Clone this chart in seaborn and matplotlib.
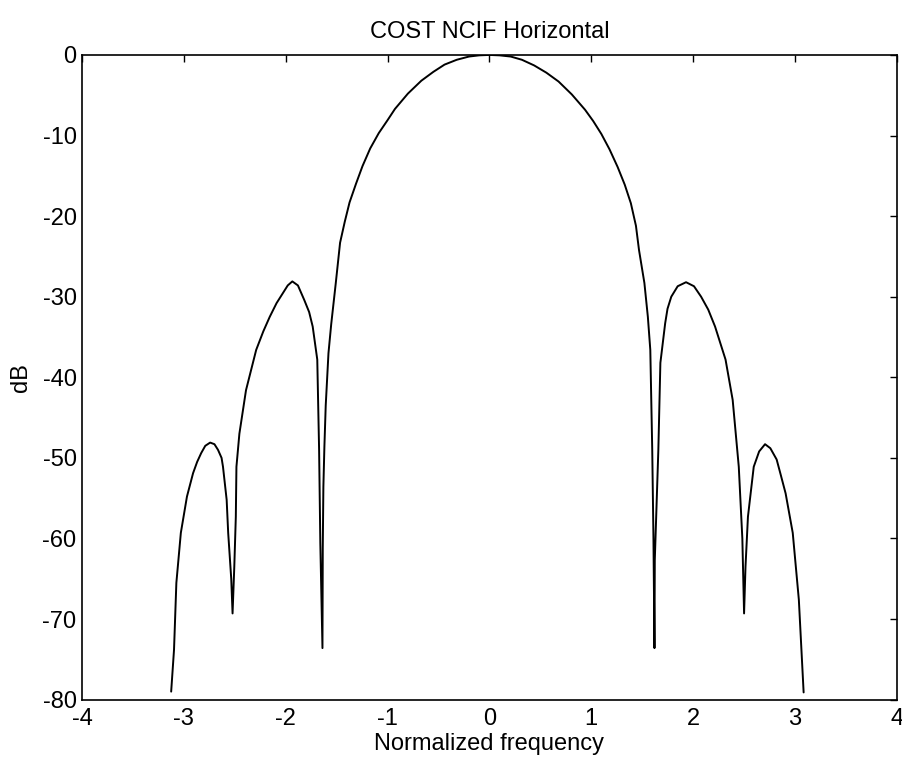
import numpy as np
import pandas as pd
import matplotlib
matplotlib.use('Agg')
import matplotlib.pyplot as plt
import seaborn as sns

# Valores (frecuencia normalizada, dB)
frecuencia = [
    # lobulo lateral exterior izquierdo
    -3.125, -3.097, -3.074, -3.03, -2.97, -2.91, -2.87, -2.83, -2.79, -2.742,
    -2.70, -2.665, -2.63, -2.616, -2.58, -2.565, -2.535, -2.522,
    # primer lobulo lateral izquierdo
    -2.505, -2.49, -2.484, -2.455, -2.39, -2.29, -2.22, -2.157, -2.09, -2.02,
    -1.98, -1.935, -1.88, -1.818, -1.77, -1.735, -1.69, -1.672, -1.66, -1.639,
    # lobulo principal
    -1.636, -1.63, -1.62, -1.607, -1.58, -1.553, -1.509, -1.466, -1.42, -1.373,
    -1.31, -1.246, -1.17, -1.086, -1.0, -0.927, -0.8, -0.668, -0.55, -0.44,
    -0.32, -0.2, -0.1, 0.0, 0.1, 0.21, 0.32, 0.44, 0.56, 0.68,
    0.81, 0.94, 1.02, 1.10, 1.18, 1.26, 1.33, 1.39, 1.44, 1.47,
    1.523, 1.557, 1.581, 1.60, 1.612, 1.622,
    # primer lobulo lateral derecho
    1.625, 1.66, 1.68, 1.727, 1.75, 1.787, 1.85, 1.932, 2.01, 2.08,
    2.15, 2.217, 2.32, 2.39, 2.45, 2.485, 2.502,
    # lobulo lateral exterior derecho
    2.516, 2.54, 2.597, 2.65, 2.708, 2.76, 2.822, 2.86, 2.91, 2.98,
    3.04, 3.087,
]
db = [
    -79.0, -73.8, -65.5, -59.3, -54.8, -51.9, -50.5, -49.4, -48.5, -48.1,
    -48.3, -49.0, -50.0, -51.1, -55.2, -59.3, -65.0, -69.3,
    -63.5, -57.3, -51.1, -47.0, -41.6, -36.6, -34.3, -32.5, -30.8, -29.4,
    -28.6, -28.1, -28.6, -30.4, -31.9, -33.7, -37.8, -49.0, -60.6, -73.6,
    -61.2, -53.6, -48.6, -43.5, -37.0, -33.4, -28.4, -23.3, -20.7, -18.3,
    -16.0, -13.8, -11.6, -9.7, -8.1, -6.7, -4.8, -3.2, -2.1, -1.2,
    -0.6, -0.2, -0.05, 0.0, -0.05, -0.2, -0.6, -1.3, -2.2, -3.3,
    -4.9, -6.8, -8.2, -9.8, -11.7, -13.9, -16.1, -18.4, -21.2, -24.2,
    -28.3, -32.5, -36.6, -49.0, -60.0, -73.6,
    -62.7, -49.0, -38.2, -33.3, -31.5, -30.0, -28.7, -28.2, -28.7, -30.0,
    -31.6, -33.7, -37.8, -42.8, -51.1, -60.0, -69.3,
    -63.5, -57.3, -51.1, -49.2, -48.3, -48.8, -50.2, -52.0, -54.4, -59.3,
    -67.6, -79.1,
]

ticks_x = [-4, -3, -2, -1, 0, 1, 2, 3, 4]
ticks_y = [-80, -70, -60, -50, -40, -30, -20, -10, 0]

df = pd.DataFrame({'freq': frecuencia, 'dB': db})

sns.set_style('white')
plt.rcParams['font.family'] = ['Liberation Sans', 'DejaVu Sans']
plt.rcParams['axes.unicode_minus'] = False
plt.rcParams['text.color'] = 'black'
plt.rcParams['axes.labelcolor'] = 'black'

fig, ax = plt.subplots(figsize=(9.02, 7.63), dpi=100)
fig.subplots_adjust(left=0.091, right=0.994, bottom=0.083, top=0.928)

sns.lineplot(data=df, x='freq', y='dB', sort=False, estimator=None,
             color='black', linewidth=1.4, ax=ax)

ax.set_xlim(-4, 4)
ax.set_ylim(-80, 0)
ax.set_xticks(ticks_x)
ax.set_yticks(ticks_y)
ax.tick_params(direction='in', length=5, width=1, top=True, right=True,
               labelsize=17, colors='black')
ax.tick_params(axis='x', pad=6)
ax.tick_params(axis='y', pad=4)
for lado in ax.spines.values():
    lado.set_color('black')
    lado.set_linewidth(1.2)

ax.set_title('COST NCIF Horizontal', fontsize=17, pad=12, color='black')
ax.set_xlabel('Normalized frequency', fontsize=17, labelpad=2)
ax.set_ylabel('dB', fontsize=17)
ax.yaxis.set_label_coords(-0.062, 0.5)

fig.savefig('out.png', dpi=100)
